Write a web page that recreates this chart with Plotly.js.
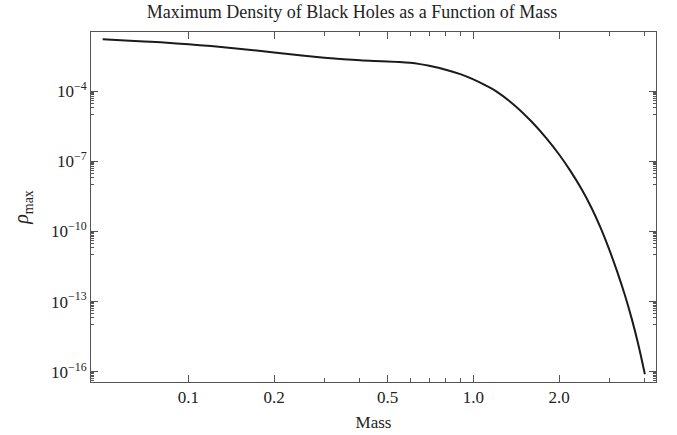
<!DOCTYPE html>
<html>
<head>
<meta charset="utf-8">
<script src="https://cdn.plot.ly/plotly-3.0.1.min.js"></script>
<style>html,body{margin:0;padding:0;background:#fff;}#chart{width:677px;height:435px;}</style>
</head>
<body>
<div id="chart"></div>
<script>
// Data
const mass   = [0.05, 0.06, 0.07, 0.08, 0.1, 0.12, 0.15, 0.2, 0.25, 0.3, 0.35, 0.4, 0.45, 0.5, 0.55, 0.6, 0.65, 0.7, 0.8, 0.9, 1.0, 1.1, 1.2, 1.4, 1.6, 1.8, 2.0, 2.2, 2.4, 2.6, 2.8, 3.0, 3.2, 3.4, 3.6, 3.8, 4.0];
const rhoMax = [1.64e-2, 1.48e-2, 1.34e-2, 1.22e-2, 1.01e-2, 8.45e-3, 6.56e-3, 4.51e-3, 3.36e-3, 2.69e-3, 2.30e-3, 2.07e-3, 1.95e-3, 1.87e-3, 1.77e-3, 1.63e-3, 1.43e-3, 1.21e-3, 8.28e-4, 5.32e-4, 3.18e-4, 1.80e-4, 9.98e-5, 2.39e-5, 5.00e-6, 9.98e-7, 1.95e-7, 3.62e-8, 6.30e-9, 9.98e-10, 1.38e-10, 1.66e-11, 1.86e-12, 1.95e-13, 1.77e-14, 1.32e-15, 7.74e-17];

const xTickVals  = [0.1, 0.2, 0.5, 1.0, 2.0];
const xTickText  = ['0.1', '0.2', '0.5', '1.0', '2.0'];
const xMinorVals = [0.3, 0.4, 0.6, 0.7, 0.8, 0.9, 3, 4];
const yTickVals  = [1e-16, 1e-13, 1e-10, 1e-7, 1e-4];
const yTickText  = ['10<sup>−16</sup>', '10<sup>−13</sup>', '10<sup>−10</sup>', '10<sup>−7</sup>', '10<sup>−4</sup>'];

const yMinorVals = [];
yTickVals.forEach(v => { for (let j = 1; j <= 9; j++) yMinorVals.push(j * v / 10); });

const serif = 'Liberation Serif, Times New Roman, serif';
const frame = '#555555';

const trace = {
  x: mass, y: rhoMax, type: 'scatter', mode: 'lines',
  line: {color: '#1a1a1a', width: 2, shape: 'spline', smoothing: 1},
  hoverinfo: 'skip'
};

const layout = {
  width: 677, height: 435,
  margin: {l: 91, r: 21, t: 32, b: 53},
  paper_bgcolor: '#ffffff', plot_bgcolor: '#ffffff',
  showlegend: false,
  font: {family: serif, size: 16, color: '#222222'},
  title: {
    text: 'Maximum Density of Black Holes as a Function of Mass',
    font: {family: serif, size: 18, color: '#222222'},
    xref: 'container', x: 0.52, xanchor: 'center',
    yref: 'container', y: 0.974, yanchor: 'middle'
  },
  xaxis: {
    type: 'log', range: [Math.log10(0.0455), 0.6411],
    tickmode: 'array', tickvals: xTickVals, ticktext: xTickText,
    ticks: 'inside', ticklen: 7, tickwidth: 1, tickcolor: frame,
    showline: true, linecolor: frame, linewidth: 1, mirror: 'ticks',
    showgrid: false, zeroline: false,
    tickfont: {family: serif, size: 17, color: '#222222'},
    minor: {tickmode: 'array', tickvals: xMinorVals, ticks: 'inside', ticklen: 4, tickcolor: frame, showgrid: false},
    title: {text: 'Mass', font: {family: serif, size: 17, color: '#222222'}, standoff: 9},
    automargin: false
  },
  yaxis: {
    type: 'log', range: [-16.441, -1.471],
    tickmode: 'array', tickvals: yTickVals, ticktext: yTickText,
    ticks: 'inside', ticklen: 7, tickwidth: 1, tickcolor: frame,
    showline: true, linecolor: frame, linewidth: 1, mirror: 'ticks',
    showgrid: false, zeroline: false,
    tickfont: {family: serif, size: 17, color: '#222222'},
    minor: {tickmode: 'array', tickvals: yMinorVals, ticks: 'inside', ticklen: 3, tickcolor: frame, showgrid: false},
    title: {text: '<i>ρ</i><sub>max</sub>', font: {family: serif, size: 20, color: '#222222'}, standoff: 16},
    automargin: false
  }
};

Plotly.newPlot('chart', [trace], layout, {staticPlot: true, displayModeBar: false});
</script>
</body>
</html>
